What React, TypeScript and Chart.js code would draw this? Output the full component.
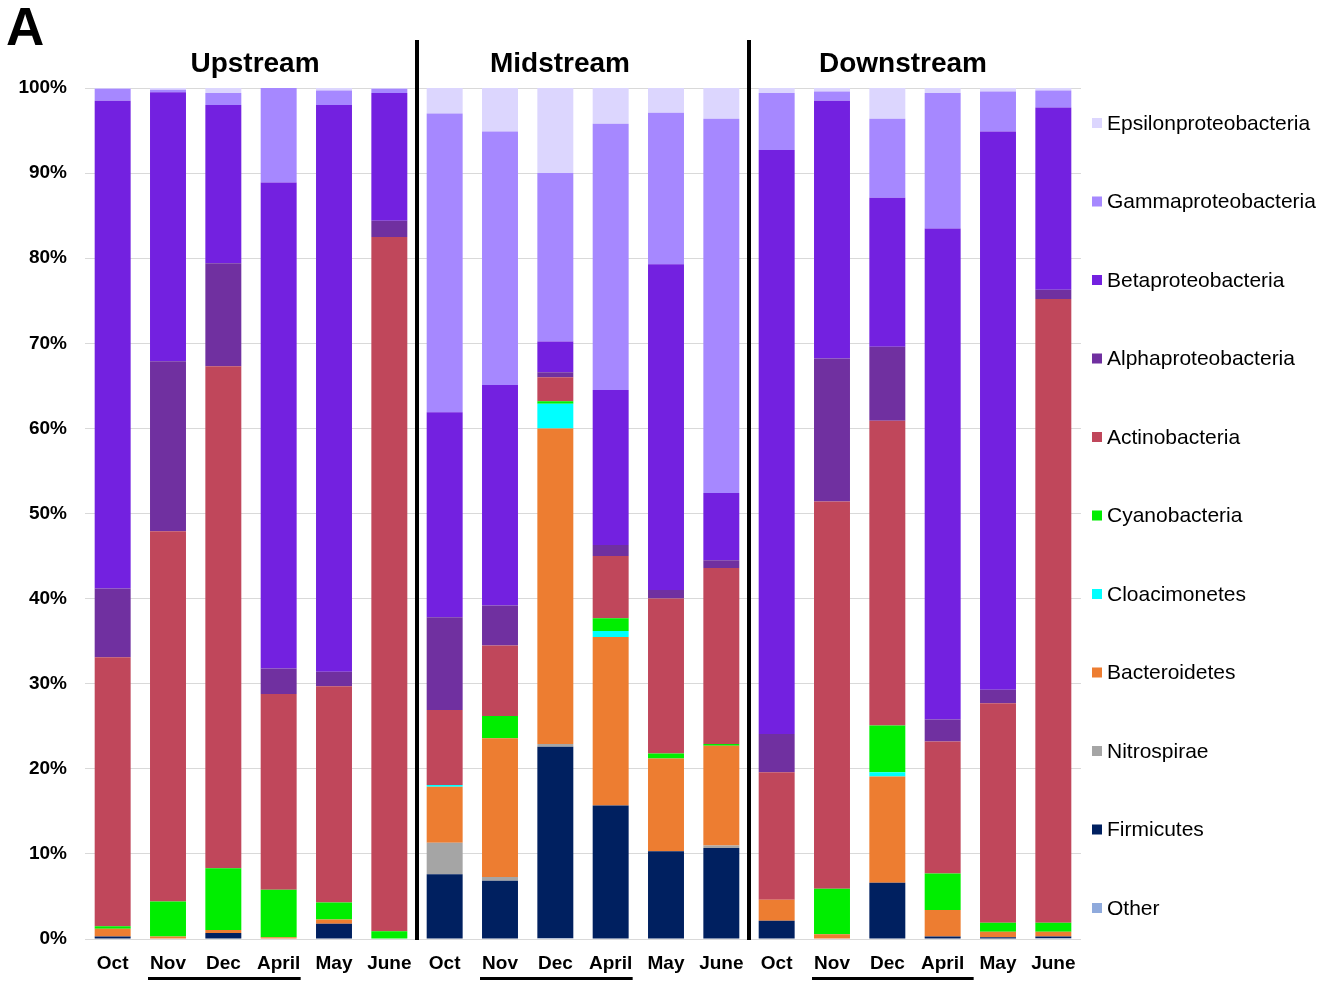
import React, { useEffect, useRef } from "react";
import { Chart, registerables } from "chart.js";

Chart.register(...registerables);

const months = ["Oct", "Nov", "Dec", "April", "May", "June"];
const groups = ["Upstream", "Midstream", "Downstream"];
const categories = [...months, ...months, ...months];

// values (%), order: Upstream Oct..June, Midstream Oct..June, Downstream Oct..June
const other = [0, 0, 0, 0, 0, 0, 0, 0, 0.1, 0, 0, 0, 0, 0, 0, 0, 0, 0.1];
const firmicutes = [0.3, 0, 0.7, 0, 1.8, 0, 7.6, 6.85, 22.5, 15.7, 10.3, 10.7, 2.15, 0, 6.6, 0.3, 0.2, 0.2];
const nitrospirae = [0, 0, 0, 0, 0, 0, 3.7, 0.45, 0.3, 0, 0, 0.3, 0, 0, 0, 0, 0, 0];
const bacteroidetes = [0.9, 0.3, 0.35, 0.2, 0.5, 0, 6.6, 16.3, 37.1, 19.8, 10.9, 11.7, 2.45, 0.55, 12.5, 3.1, 0.65, 0.55];
const cloacimonetes = [0, 0, 0, 0, 0, 0, 0.2, 0, 2.9, 0.7, 0, 0, 0, 0, 0.5, 0, 0, 0];
const cyanobacteria = [0.3, 4.1, 7.25, 5.6, 2.0, 0.9, 0, 2.6, 0.3, 1.5, 0.6, 0.2, 0, 5.35, 5.5, 4.3, 1.05, 1.05];
const actinobacteria = [31.6, 43.5, 59.0, 23.0, 25.4, 81.6, 8.8, 8.3, 2.8, 7.3, 18.2, 20.7, 15.0, 45.5, 35.8, 15.5, 25.8, 73.3];
const alphaproteo = [8.1, 20.0, 12.1, 3.0, 1.7, 1.9, 10.9, 4.7, 0.6, 1.3, 1.0, 0.9, 4.5, 16.8, 8.7, 2.6, 1.6, 1.1];
const betaproteo = [57.3, 31.6, 18.6, 57.1, 66.6, 15.0, 24.1, 25.9, 3.6, 18.2, 38.3, 7.9, 68.6, 30.3, 17.5, 57.7, 65.6, 21.4];
const gammaproteo = [1.4, 0.3, 1.4, 11.1, 1.7, 0.5, 35.1, 29.8, 19.8, 31.3, 17.8, 44.0, 6.7, 1.1, 9.3, 15.9, 4.7, 2.0];
const epsilonproteo = [0.1, 0.2, 0.6, 0, 0.3, 0.1, 3.0, 5.1, 10.0, 4.2, 2.9, 3.6, 0.6, 0.4, 3.6, 0.6, 0.4, 0.3];

const seriesNames = [
  "Other",
  "Firmicutes",
  "Nitrospirae",
  "Bacteroidetes",
  "Cloacimonetes",
  "Cyanobacteria",
  "Actinobacteria",
  "Alphaproteobacteria",
  "Betaproteobacteria",
  "Gammaproteobacteria",
  "Epsilonproteobacteria",
];
const seriesValues = [
  other,
  firmicutes,
  nitrospirae,
  bacteroidetes,
  cloacimonetes,
  cyanobacteria,
  actinobacteria,
  alphaproteo,
  betaproteo,
  gammaproteo,
  epsilonproteo,
];
const seriesColors = [
  "#8FAADC",
  "#002060",
  "#A5A5A5",
  "#ED7D31",
  "#00FFFF",
  "#00EE00",
  "#C0475B",
  "#7030A0",
  "#7321E0",
  "#A688FF",
  "#DCD6FE",
];

const yTickValues = [0, 10, 20, 30, 40, 50, 60, 70, 80, 90, 100];

const FONT = '"Liberation Sans", Arial, Helvetica, sans-serif';

const decorPlugin = {
  id: "decor",
  afterDraw(chart: any) {
    const { ctx, scales } = chart;
    const x = scales.x;
    const y = scales.y;
    const step = x.getPixelForValue(1) - x.getPixelForValue(0);
    ctx.save();

    // Panel letter
    ctx.fillStyle = "#000";
    ctx.font = `bold 53px ${FONT}`;
    ctx.textAlign = "left";
    ctx.textBaseline = "alphabetic";
    ctx.fillText("A", 6, 45);

    // Group separators
    ctx.strokeStyle = "#000";
    ctx.lineWidth = 4;
    for (let g = 1; g < groups.length; g++) {
      const px = x.getPixelForValue(g * 6 - 1) + step / 2;
      ctx.beginPath();
      ctx.moveTo(px, 40);
      ctx.lineTo(px, y.getPixelForValue(0) + 1);
      ctx.stroke();
    }

    // Group titles
    const titleShift = [4, -23, -12];
    ctx.font = `bold 28px ${FONT}`;
    ctx.textAlign = "center";
    ctx.textBaseline = "middle";
    groups.forEach((gName, g) => {
      const cx = (x.getPixelForValue(g * 6) + x.getPixelForValue(g * 6 + 5)) / 2 + titleShift[g];
      ctx.fillText(gName, cx, 64);
    });

    // Underlines below Nov..April
    const rightShift = [22, 22, 31];
    ctx.lineWidth = 3;
    groups.forEach((_, g) => {
      const l = x.getPixelForValue(g * 6 + 1) - 20;
      const r = x.getPixelForValue(g * 6 + 3) + rightShift[g];
      ctx.beginPath();
      ctx.moveTo(l, 978.5);
      ctx.lineTo(r, 978.5);
      ctx.stroke();
    });

    // Legend (top to bottom: reverse of stacking order)
    ctx.font = `21px ${FONT}`;
    ctx.textAlign = "left";
    ctx.textBaseline = "middle";
    for (let i = 0; i < seriesNames.length; i++) {
      const idx = seriesNames.length - 1 - i;
      const ly = 123 + i * 78.5;
      ctx.fillStyle = seriesColors[idx];
      ctx.fillRect(1092, ly - 5, 10, 10);
      ctx.fillStyle = "#000";
      ctx.fillText(seriesNames[idx], 1107, ly + 1);
    }
    ctx.restore();
  },
};

export default function App() {
  const ref = useRef<HTMLCanvasElement>(null);

  useEffect(() => {
    if (!ref.current) return;
    const chart = new Chart(ref.current, {
      type: "bar",
      data: {
        labels: categories,
        datasets: seriesNames.map((name, i) => ({
          label: name,
          data: seriesValues[i],
          backgroundColor: seriesColors[i],
          borderWidth: 0,
          barPercentage: 0.65,
          categoryPercentage: 1,
        })),
      },
      options: {
        responsive: false,
        animation: false,
        layout: { padding: { top: 88, right: 257, left: 0, bottom: 0 } },
        plugins: {
          legend: { display: false },
          tooltip: { enabled: false },
        },
        scales: {
          x: {
            stacked: true,
            grid: { display: false, drawTicks: false },
            border: { display: false },
            ticks: {
              color: "#000",
              padding: 13,
              font: { family: FONT, size: 19, weight: "bold" },
              maxRotation: 0,
              autoSkip: false,
            },
            afterFit: (s: any) => {
              s.height = 44;
            },
          },
          y: {
            stacked: true,
            min: 0,
            max: 100,
            afterBuildTicks: (s: any) => {
              s.ticks = yTickValues.map((v) => ({ value: v }));
            },
            grid: { color: "#D9D9D9", lineWidth: 1, drawTicks: false },
            border: { display: false },
            ticks: {
              color: "#000",
              padding: 18,
              font: { family: FONT, size: 19, weight: "bold" },
              callback: (v: any) => `${v}%`,
            },
            afterFit: (s: any) => {
              s.width = 85;
            },
          },
        },
      },
      plugins: [decorPlugin],
    });
    return () => chart.destroy();
  }, []);

  return (
    <div style={{ position: "absolute", left: 0, top: 0, width: 1338, height: 983, background: "#fff" }}>
      <canvas ref={ref} width={1338} height={983} />
    </div>
  );
}
